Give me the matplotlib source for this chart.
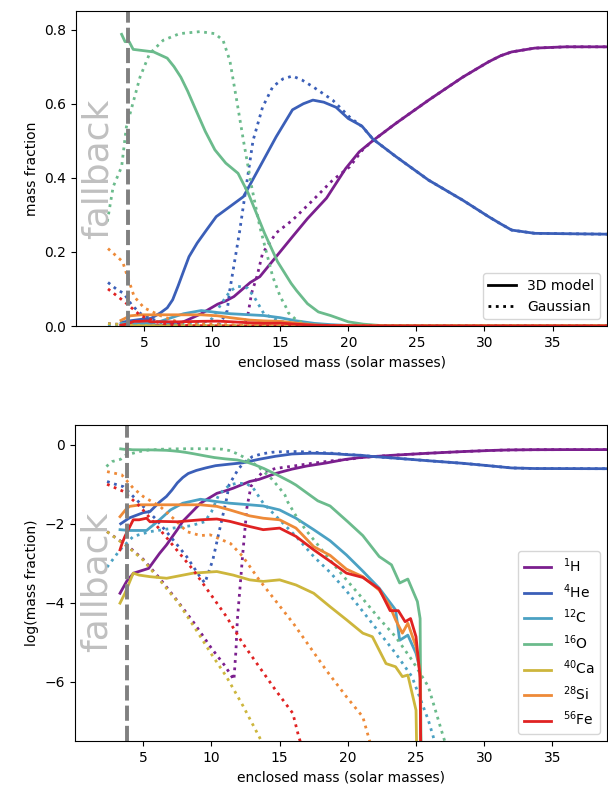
import numpy as np
import matplotlib.pyplot as plt

# log10 mass fraction vs enclosed mass (solar masses)
# 3D model (solid)
m_H_3d = [3.3, 3.8, 4.3, 5.4, 6.2, 6.7, 7.5, 7.9, 9.2, 10.4, 11.0, 11.6, 12.8, 13.5, 14.7, 15.9, 17.0,
          18.4, 19.8, 20.8, 21.8, 23.5, 25.9, 28.4, 30.3, 31.2, 32.0, 33.7, 36.0, 39.0]
L_H_3d = [-3.76, -3.45, -3.25, -3.13, -2.75, -2.54, -2.15, -1.94, -1.48, -1.23, -1.17, -1.10, -0.93, -0.876,
          -0.728, -0.618, -0.538, -0.462, -0.372, -0.328, -0.301, -0.262, -0.215, -0.173, -0.147, -0.137,
          -0.131, -0.125, -0.123, -0.123]

m_He_3d = [3.35, 4.0, 5.0, 5.5, 6.2, 6.7, 7.1, 7.5, 7.9, 8.3, 8.9, 9.58, 10.3, 11.3, 12.3, 13.5, 14.7,
           15.9, 16.7, 17.4, 18.2, 19.1, 20.0, 21.0, 21.8, 23.5, 25.9, 28.4, 30.3, 31.2, 32.0, 33.7, 39.0]
L_He_3d = [-2.0, -1.85, -1.72, -1.69, -1.45, -1.31, -1.15, -0.966, -0.83, -0.728, -0.65, -0.587, -0.530,
           -0.492, -0.457, -0.367, -0.292, -0.234, -0.222, -0.215, -0.219, -0.229, -0.252, -0.268, -0.297,
           -0.340, -0.405, -0.469, -0.530, -0.560, -0.587, -0.602, -0.606]

m_C_3d = [3.3, 4.0, 5.25, 6.2, 7.0, 7.9, 9.2, 10.4, 11.35, 12.8, 13.8, 15.0, 16.2, 17.5, 18.7, 19.9, 21.1,
          22.3, 23.5, 23.8, 24.4, 25.0, 25.3, 25.45, 39.0]
L_C_3d = [-2.15, -2.17, -2.17, -1.90, -1.65, -1.48, -1.38, -1.44, -1.48, -1.52, -1.55, -1.65, -1.86, -2.15,
          -2.43, -2.79, -3.2, -3.63, -4.18, -4.95, -4.82, -5.28, -5.7, -12, -12]

m_O_3d = [3.35, 3.6, 3.9, 4.2, 5.7, 6.7, 7.2, 7.7, 8.2, 8.7, 9.5, 10.2, 11.0, 11.9, 12.65, 13.2, 13.85,
          14.8, 15.8, 16.2, 17.0, 17.8, 18.7, 20.0, 21.1, 22.3, 23.2, 23.8, 24.4, 25.1, 25.3, 25.45, 39.0]
L_O_3d = [-0.104, -0.115, -0.115, -0.127, -0.131, -0.141, -0.155, -0.173, -0.198, -0.228, -0.280, -0.323,
          -0.357, -0.385, -0.446, -0.51, -0.602, -0.76, -0.939, -1.02, -1.22, -1.42, -1.55, -1.95, -2.30,
          -2.83, -3.04, -3.5, -3.4, -3.97, -4.4, -12, -12]

m_Ca_3d = [3.3, 3.66, 4.27, 4.7, 5.5, 6.72, 8.67, 10.4, 11.6, 12.8, 13.8, 15.0, 16.2, 17.5, 18.7, 19.9,
           21.1, 21.8, 22.8, 23.5, 24.0, 24.4, 25.0, 25.25, 39.0]
L_Ca_3d = [-4.01, -3.76, -3.25, -3.3, -3.34, -3.38, -3.25, -3.21, -3.3, -3.42, -3.46, -3.42, -3.55, -3.76,
           -4.1, -4.43, -4.77, -4.86, -5.54, -5.62, -5.87, -5.83, -6.72, -12, -12]

m_Si_3d = [3.3, 3.7, 4.0, 4.8, 6.7, 9.2, 10.4, 11.35, 12.8, 13.8, 15.0, 16.2, 17.5, 18.7, 19.9, 21.1,
           22.3, 23.1, 23.5, 24.0, 24.4, 25.0, 25.3, 25.45, 39.0]
L_Si_3d = [-1.82, -1.65, -1.56, -1.52, -1.52, -1.52, -1.56, -1.65, -1.80, -1.86, -1.9, -2.11, -2.58, -2.8,
           -3.15, -3.34, -3.68, -4.1, -4.43, -4.77, -4.52, -5.11, -5.79, -12, -12]

m_Fe_3d = [3.3, 3.45, 3.66, 4.27, 4.7, 5.25, 5.5, 6.2, 7.5, 9.2, 10.4, 11.35, 12.8, 13.8, 15.0, 16.2,
           17.5, 18.7, 19.9, 21.1, 22.3, 23.1, 23.7, 24.2, 24.6, 25.0, 25.3, 25.45, 39.0]
L_Fe_3d = [-2.66, -2.5, -2.32, -1.9, -1.9, -1.86, -1.95, -1.94, -1.95, -1.9, -1.88, -1.94, -2.07, -2.15,
           -2.11, -2.32, -2.66, -2.95, -3.25, -3.36, -3.65, -4.2, -4.2, -4.48, -4.4, -4.86, -5.9, -12, -12]

# Gaussian (dotted)
m_H_g = [2.35, 4.0, 5.0, 6.2, 7.5, 8.7, 10.0, 11.0, 11.65, 11.8, 11.9, 12.1, 12.3, 12.6, 12.9, 13.3,
         13.7, 14.7, 15.9, 17.4, 18.85, 20.1, 21.05, 21.8, 23.5, 25.9, 28.4, 30.3, 31.2, 32.0, 33.7, 36.0, 39.0]
L_H_g = [-2.2, -2.6, -2.9, -3.38, -3.95, -4.5, -5.15, -5.6, -5.95, -5.2, -4.44, -3.6, -2.75, -1.6, -1.05,
         -0.87, -0.708, -0.60, -0.544, -0.469, -0.405, -0.367, -0.323, -0.301, -0.262, -0.215, -0.173,
         -0.147, -0.137, -0.131, -0.125, -0.123, -0.123]

m_He_g = [2.35, 2.95, 3.54, 4.1, 4.76, 5.98, 7.2, 8.18, 9.16, 9.52, 10.1, 10.6, 11.1, 11.3, 12.0, 12.5,
          13.0, 13.7, 14.45, 15.2, 15.9, 16.6, 17.4, 18.85, 20.1, 21.05, 21.8, 23.5, 25.9, 28.4, 30.3, 31.2,
          32.0, 33.7, 39.0]
L_He_g = [-0.93, -1.0, -1.06, -1.25, -1.48, -1.9, -2.41, -2.83, -3.34, -3.5, -2.92, -2.15, -1.39, -1.01,
          -0.60, -0.425, -0.301, -0.229, -0.19, -0.176, -0.171, -0.178, -0.19, -0.215, -0.249, -0.27,
          -0.297, -0.340, -0.405, -0.469, -0.530, -0.560, -0.587, -0.602, -0.606]

m_C_g = [2.35, 3.3, 4.27, 5.5, 7.2, 8.5, 9.5, 10.0, 10.5, 10.9, 11.35, 11.9, 12.6, 13.07, 13.8, 15.0,
         16.2, 17.5, 18.7, 19.9, 21.1, 22.3, 23.5, 24.7, 25.9, 26.4, 26.6, 39.0]
L_C_g = [-3.1, -2.66, -2.32, -2.2, -2.11, -2.05, -1.95, -1.7, -1.3, -1.14, -1.02, -0.97, -0.99, -1.1, -1.48,
         -1.9, -2.32, -2.83, -3.23, -3.7, -4.22, -4.75, -5.28, -5.87, -6.97, -7.55, -7.7, -12]

m_O_g = [2.3, 2.73, 3.35, 3.7, 4.1, 4.7, 5.4, 6.4, 7.6, 9.1, 10.2, 10.8, 11.3, 11.8, 12.3, 12.9, 13.5,
         14.45, 15.0, 15.4, 15.6, 16.2, 16.9, 17.7, 18.7, 19.9, 21.1, 22.3, 23.5, 24.7, 25.9, 27.0, 27.2, 39.0]
L_O_g = [-0.55, -0.425, -0.367, -0.27, -0.229, -0.173, -0.134, -0.113, -0.103, -0.100, -0.103, -0.113,
         -0.145, -0.215, -0.301, -0.425, -0.572, -0.876, -1.1, -1.28, -1.45, -1.8, -2.15, -2.49, -2.92,
         -3.42, -3.9, -4.4, -4.86, -5.45, -6.12, -7.39, -7.6, -12]

m_Ca_g = [2.35, 4.0, 5.0, 6.2, 7.0, 7.6, 9.0, 10.0, 11.1, 12.3, 13.5, 13.8, 39.0]
L_Ca_g = [-2.2, -2.62, -2.92, -3.42, -3.76, -4.01, -4.75, -5.3, -5.87, -6.6, -7.39, -7.6, -12]

m_Si_g = [2.35, 3.42, 4.27, 5.0, 6.23, 7.45, 8.2, 9.2, 9.9, 11.4, 12.3, 13.5, 16.0, 18.4, 19.9, 21.1,
          21.6, 21.8, 39.0]
L_Si_g = [-0.68, -0.76, -1.10, -1.31, -1.56, -1.94, -2.2, -2.3, -2.28, -2.5, -2.83, -3.42, -4.52, -5.7,
          -6.38, -6.89, -7.5, -7.7, -12]

m_Fe_g = [2.35, 3.54, 4.76, 6.23, 7.45, 8.67, 9.89, 11.1, 12.3, 13.5, 14.7, 15.97, 16.4, 16.6, 39.0]
L_Fe_g = [-1.0, -1.18, -1.56, -2.15, -2.66, -3.17, -3.76, -4.35, -5.03, -5.62, -6.21, -6.8, -7.39, -7.6, -12]

species = ['$^{1}$H', '$^{4}$He', '$^{12}$C', '$^{16}$O', '$^{40}$Ca', '$^{28}$Si', '$^{56}$Fe']
colors = ['#7b1f8e', '#3b5fb8', '#4ba1c3', '#6bbb8c', '#cdb63c', '#ee8a38', '#e02222']

curves_3d = [(m_H_3d, L_H_3d), (m_He_3d, L_He_3d), (m_C_3d, L_C_3d), (m_O_3d, L_O_3d),
             (m_Ca_3d, L_Ca_3d), (m_Si_3d, L_Si_3d), (m_Fe_3d, L_Fe_3d)]
curves_g = [(m_H_g, L_H_g), (m_He_g, L_He_g), (m_C_g, L_C_g), (m_O_g, L_O_g),
            (m_Ca_g, L_Ca_g), (m_Si_g, L_Si_g), (m_Fe_g, L_Fe_g)]

m_fallback = 3.8

fig = plt.figure(figsize=(6.08, 7.96), dpi=100)
ax1 = fig.add_axes([76 / 608, 470 / 796, 531 / 608, 315 / 796])
ax2 = fig.add_axes([75 / 608, 55 / 796, 532 / 608, 316 / 796])

for (mg, lg), (m3, l3), col, name in zip(curves_g, curves_3d, colors, species):
    ax1.plot(mg, 10 ** np.array(lg), ':', color=col, lw=2)
    ax1.plot(m3, 10 ** np.array(l3), '-', color=col, lw=2)
    ax2.plot(mg, lg, ':', color=col, lw=2)
    ax2.plot(m3, l3, '-', color=col, lw=2, label=name)

# legend for line styles
ax1.plot([], [], 'k-', lw=2, label='3D model')
ax1.plot([], [], 'k:', lw=2, label='Gaussian')
ax1.legend(loc='lower right')
ax2.legend(loc='lower right')

for ax in (ax1, ax2):
    ax.axvline(m_fallback, color='grey', ls='--', lw=2.8, dashes=(3.9, 1.3))
    ax.set_xlim(0, 39)
    ax.set_xticks([5, 10, 15, 20, 25, 30, 35])
    ax.set_xlabel('enclosed mass (solar masses)')

ax1.set_ylim(0, 0.85)
ax1.set_yticks([0.0, 0.2, 0.4, 0.6, 0.8])
ax1.set_ylabel('mass fraction')
ax1.text(1.6, 0.425, 'fallback', rotation=90, fontsize=26, color='#c0c0c0',
         ha='center', va='center')

ax2.set_ylim(-7.5, 0.5)
ax2.set_yticks([0, -2, -4, -6])
ax2.set_ylabel('log(mass fraction)')
ax2.text(1.6, -3.47, 'fallback', rotation=90, fontsize=26, color='#c0c0c0',
         ha='center', va='center')

plt.savefig('out.png', dpi=100)
